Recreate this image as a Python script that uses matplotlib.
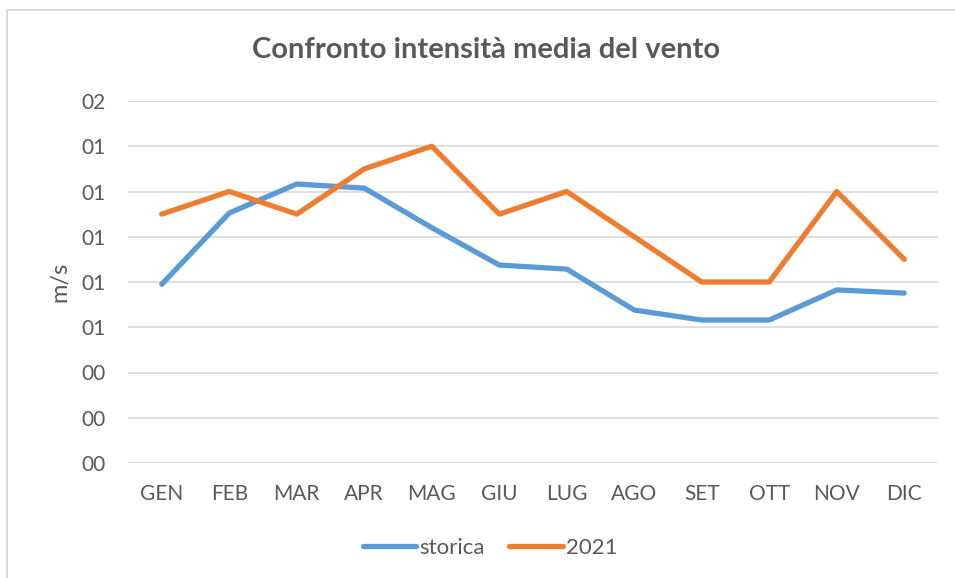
import matplotlib
matplotlib.use("Agg")
import matplotlib.pyplot as plt
from matplotlib.lines import Line2D
from matplotlib.ticker import FixedLocator, FuncFormatter

months = ["GEN", "FEB", "MAR", "APR", "MAG", "GIU", "LUG", "AGO", "SET", "OTT", "NOV", "DIC"]
storica = [0.79, 1.105, 1.233, 1.215, 1.04, 0.875, 0.857, 0.676, 0.632, 0.632, 0.765, 0.751]
anno2021 = [1.1, 1.2, 1.1, 1.3, 1.4, 1.1, 1.2, 1.0, 0.8, 0.8, 1.2, 0.9]
yticks = [0.0, 0.2, 0.4, 0.6, 0.8, 1.0, 1.2, 1.4, 1.6]

plt.rcParams['font.family'] = ['Lato', 'DejaVu Sans']
TXT = '#595959'
W, H = 955, 578
fig = plt.figure(figsize=(W/100, H/100), dpi=100)
# chart-area border (top and left edges visible)
fig.add_artist(Line2D([7/W, 7/W, 1.0], [0.0, 1-10/H, 1-10/H], transform=fig.transFigure,
                      color='#D9D9D9', linewidth=1.4))

ax = fig.add_axes([128/W, 1-463/H, (938-128)/W, (463-101)/H])
x = list(range(len(months)))
ax.plot(x, storica, color='#5B9BD5', linewidth=3.8, solid_capstyle='round', label='storica', zorder=3)
ax.plot(x, anno2021, color='#ED7D31', linewidth=3.8, solid_capstyle='round', label='2021', zorder=3)
ax.set_xlim(-0.5, len(months)-0.5)
ax.set_ylim(0, 1.6)
ax.yaxis.set_major_locator(FixedLocator(yticks))
ax.yaxis.set_major_formatter(FuncFormatter(lambda v, p: f"{int(round(v)):02d}"))
ax.set_xticks(x)
ax.set_xticklabels(months)
ax.grid(axis='y', color='#D9D9D9', linewidth=1.2)
ax.set_axisbelow(True)
for s in ax.spines.values():
    s.set_visible(False)
ax.tick_params(axis='both', length=0, labelsize=15, colors=TXT)
ax.tick_params(axis='y', pad=16)
ax.tick_params(axis='x', pad=15)
ax.set_ylabel('m/s', fontsize=17, color=TXT, labelpad=8)
fig.text(486/W, 1-50/H, 'Confronto intensità media del vento', ha='center', va='center',
         fontsize=21, fontweight='bold', color=TXT)
leg = ax.legend(loc='center', bbox_to_anchor=(490/W, 1-548/H), bbox_transform=fig.transFigure,
                ncol=2, frameon=False, fontsize=16, handlelength=2.4, handletextpad=0.15,
                columnspacing=1.1, labelcolor=TXT)
fig.savefig('out.png', dpi=100)
